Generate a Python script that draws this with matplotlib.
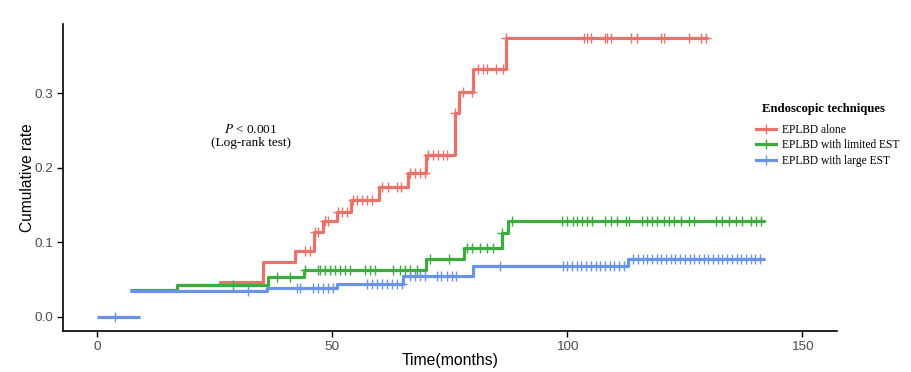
import numpy as np
import matplotlib.pyplot as plt
from matplotlib.lines import Line2D

plt.rcParams['font.family'] = ['Liberation Sans', 'DejaVu Sans']
plt.rcParams['mathtext.fontset'] = 'stix'

# cumulative rate curves (step 'post'), times in months
red_t = [17, 26, 35.3, 42, 46, 48, 51, 54, 60, 66, 70, 76, 77, 80, 87, 130]
red_y = [0.042, 0.047, 0.074, 0.088, 0.114, 0.128, 0.141, 0.157, 0.174, 0.193, 0.217, 0.273, 0.302, 0.332, 0.374, 0.374]
red_cens = [44.2, 45.2, 46.3, 46.9, 48.4, 49.0, 51.2, 52.0, 53.1, 54.4, 55.2, 56.3, 57.3, 58.4,
            60.5, 61.8, 63.7, 64.7, 66.5, 67.5, 68.6, 69.6, 70.3, 71.3, 72.4, 73.5, 74.3, 76.0,
            77.7, 79.8, 80.9, 82.0, 83.0, 84.9, 86.2, 87.0, 103.6, 104.2, 105.1, 107.9, 108.5,
            109.3, 113.6, 114.9, 120.0, 120.6, 125.9, 128.5, 129.5]

green_t = [7, 17, 36.3, 44, 70, 78, 86, 87.3, 142]
green_y = [0.036, 0.042, 0.054, 0.063, 0.077, 0.092, 0.112, 0.129, 0.129]
green_cens = [28.9, 38.2, 41.0, 44.2, 46.9, 47.3, 48.4, 49.5, 50.5, 51.6, 52.7, 53.7, 56.9, 58.0,
              59.0, 62.8, 64.3, 65.4, 66.5, 67.9, 70.7, 74.9, 78.6, 79.8, 81.3, 82.8, 84.1, 86.0,
              88.3, 98.9, 100.0, 101.1, 102.1, 103.2, 104.2, 105.3, 107.9, 109.3, 110.6, 112.5,
              113.2, 115.9, 117.0, 118.0, 119.1, 120.6, 121.7, 122.7, 124.2, 125.9, 127.0, 131.6,
              132.9, 134.4, 135.9, 137.2, 139.1, 140.1, 141.2]

blue_t0 = [0, 9]
blue_y0 = [0.0, 0.0]
blue_cens0 = [3.8]
blue_t = [7, 36, 51, 65, 80, 113, 142]
blue_y = [0.034, 0.039, 0.044, 0.055, 0.0675, 0.078, 0.078]
blue_cens = [32.1, 42.5, 43.1, 45.9, 46.9, 48.0, 49.0, 50.1, 57.3, 58.4, 59.4, 60.5, 61.6, 62.6,
             63.7, 64.8, 66.5, 67.5, 68.6, 69.6, 72.2, 73.2, 74.3, 75.4, 76.4, 85.6,
             99, 100, 101, 102, 103, 104, 105, 106, 107, 108, 109, 110, 111, 112,
             114, 115, 116, 117, 118, 119, 120, 121, 122, 123, 124, 125, 126, 127, 128,
             129, 130, 131, 132, 133, 134, 135, 136, 137, 138, 139, 140, 141]

labels = ['EPLBD alone', 'EPLBD with limited EST', 'EPLBD with large EST']
colors = ['#E8736A', '#3DAB3D', '#6A93E6']


def step_at(t, y, x):
    i = np.searchsorted(t, x, side='right') - 1
    i = np.clip(i, 0, len(y) - 1)
    return np.array(y)[i]


fig = plt.figure(figsize=(9.12, 3.72), dpi=100)
ax = fig.add_axes([0.0687, 0.110, 0.8487, 0.8255])

curves = [(red_t, red_y, red_cens, colors[0]),
          (green_t, green_y, green_cens, colors[1]),
          (blue_t0, blue_y0, blue_cens0, colors[2]),
          (blue_t, blue_y, blue_cens, colors[2])]
for t, y, c, col in curves:
    ax.step(t, y, where='post', color=col, lw=2.3, solid_capstyle='butt')
    ax.plot(c, step_at(t, y, c), ls='none', marker='+', ms=7, mew=1.0, color=col)

ax.set_xlim(-7.4, 157.3)
ax.set_ylim(-0.0192, 0.393)
ax.set_xticks([0, 50, 100, 150])
ax.set_yticks([0.0, 0.1, 0.2, 0.3])
ax.set_yticklabels(['0.0', '0.1', '0.2', '0.3'])
for s in ['top', 'right']:
    ax.spines[s].set_visible(False)
for s in ['left', 'bottom']:
    ax.spines[s].set_linewidth(1.2)
ax.tick_params(length=4, width=1, labelsize=9.7, labelcolor='#4D4D4D', pad=3)
ax.set_xlabel('Time(months)', fontsize=11.3, labelpad=0)
ax.set_ylabel('Cumulative rate', fontsize=11.2, labelpad=-1)

ax.text(32.6, 0.252, r'$\it{P}$ < 0.001', family='Liberation Serif', fontsize=9.5,
        ha='center', va='center')
ax.text(32.6, 0.233, '(Log-rank test)', family='Liberation Serif', fontsize=9.5,
        ha='center', va='center')

fig.text(762 / 912, 1 - 109 / 372, 'Endoscopic techniques', family='Liberation Serif',
         fontsize=9.2, weight='bold', ha='left', va='center')
handles = [Line2D([], [], color=col, lw=2.3, marker='+', ms=7, mew=1.0) for col in colors]
leg = fig.legend(handles, labels, loc='upper left', bbox_to_anchor=(756 / 912, 1 - 124 / 372),
                 frameon=False, prop={'family': 'Liberation Serif', 'size': 8.3},
                 handlelength=1.7, handletextpad=0.55, labelspacing=0.3,
                 borderaxespad=0, borderpad=0)

fig.savefig('out.png', dpi=100)
